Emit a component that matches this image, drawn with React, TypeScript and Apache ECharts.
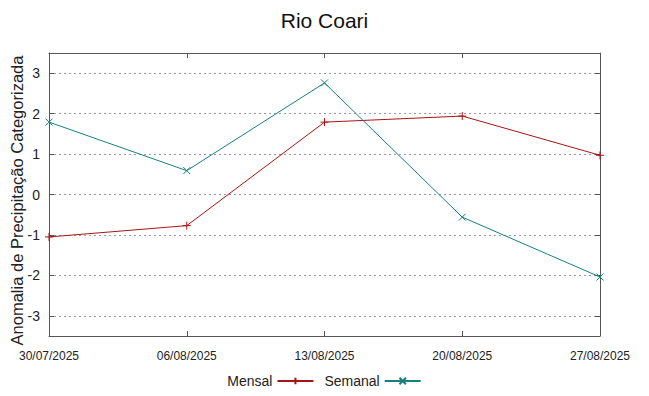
import React, { useEffect, useRef } from "react";
import * as echarts from "echarts";

const categories = ["30/07/2025", "06/08/2025", "13/08/2025", "20/08/2025", "27/08/2025"];
const mensal = [-1.05, -0.77, 1.79, 1.94, 0.97];
const semanal = [1.79, 0.59, 2.76, -0.56, -2.04];
const yTicks = [-3, -2, -1, 0, 1, 2, 3];

const RED = "#a81414";
const TEAL = "#168080";
const FONT = "Liberation Sans, Arial, sans-serif";

export default function App() {
  const ref = useRef<HTMLDivElement>(null);
  useEffect(() => {
    if (!ref.current) return;
    const chart = echarts.init(ref.current, undefined, { renderer: "svg" });
    const axisLine = { show: true, onZero: false, lineStyle: { color: "#555", width: 1 } };
    chart.setOption({
      animation: false,
      backgroundColor: "#fff",
      textStyle: { fontFamily: FONT },
      title: {
        text: "Rio Coari",
        left: "center",
        top: 5,
        textStyle: { fontFamily: FONT, fontSize: 21, fontWeight: "normal", color: "#111" },
      },
      grid: { left: 49, right: 49, top: 53, bottom: 60, containLabel: false, outerBoundsMode: "none" },
      legend: {
        bottom: 3,
        left: "center",
        align: "right",
        itemWidth: 36,
        itemHeight: 8,
        itemGap: 10,
        textStyle: { fontFamily: FONT, fontSize: 14, color: "#222" },
        data: ["Mensal", "Semanal"],
      },
      xAxis: [
        {
          type: "category",
          data: categories,
          boundaryGap: false,
          axisLine,
          axisTick: { show: true, inside: true, length: 5, lineStyle: { color: "#555" } },
          axisLabel: { fontFamily: FONT, fontSize: 12, color: "#222", margin: 14, showMinLabel: true, showMaxLabel: true, interval: 0 },
          splitLine: { show: false },
        },
        {
          type: "category",
          data: categories,
          boundaryGap: false,
          position: "top",
          axisLine,
          axisTick: { show: true, inside: true, length: 5, lineStyle: { color: "#555" } },
          axisLabel: { show: false },
          splitLine: { show: false },
        },
      ],
      yAxis: [
        {
          type: "value",
          min: -3.5,
          max: 3.5,
          interval: 0.5,
          axisLine,
          axisTick: { show: true, inside: true, length: 5, lineStyle: { color: "#555" }, customValues: yTicks },
          axisLabel: {
            fontFamily: FONT,
            fontSize: 14,
            color: "#222",
            margin: 9,
            customValues: yTicks,
          },
          splitLine: {
            show: true,
            lineStyle: { color: "#999", type: [2, 3], width: 1 },
          },
          name: "Anomalia de Precipitação Categorizada",
          nameLocation: "middle",
          nameGap: 24,
          nameMoveOverlap: false,
          nameTextStyle: { fontFamily: FONT, fontSize: 16.5, color: "#222", padding: [0, 12, 0, 0] },
        },
        {
          type: "value",
          min: -3.5,
          max: 3.5,
          interval: 0.5,
          position: "right",
          axisLine,
          axisTick: { show: true, inside: true, length: 5, lineStyle: { color: "#555" }, customValues: yTicks },
          axisLabel: { show: false },
          splitLine: { show: false },
        },
      ],
      series: [
        {
          name: "Mensal",
          type: "line",
          data: mensal,
          symbol: "path://M0,5L10,5M5,0L5,10",
          symbolSize: 8,
          showAllSymbol: true,
          lineStyle: { color: RED, width: 1 },
          itemStyle: { color: "none", borderColor: RED, borderWidth: 1 },
        },
        {
          name: "Semanal",
          type: "line",
          data: semanal,
          symbol: "path://M0,0L10,10M10,0L0,10",
          symbolSize: 7,
          showAllSymbol: true,
          lineStyle: { color: TEAL, width: 1 },
          itemStyle: { color: "none", borderColor: TEAL, borderWidth: 1 },
        },
      ],
    });
    return () => chart.dispose();
  }, []);
  return <div ref={ref} style={{ width: 649, height: 396, position: "absolute", left: 0, top: 0 }} />;
}
